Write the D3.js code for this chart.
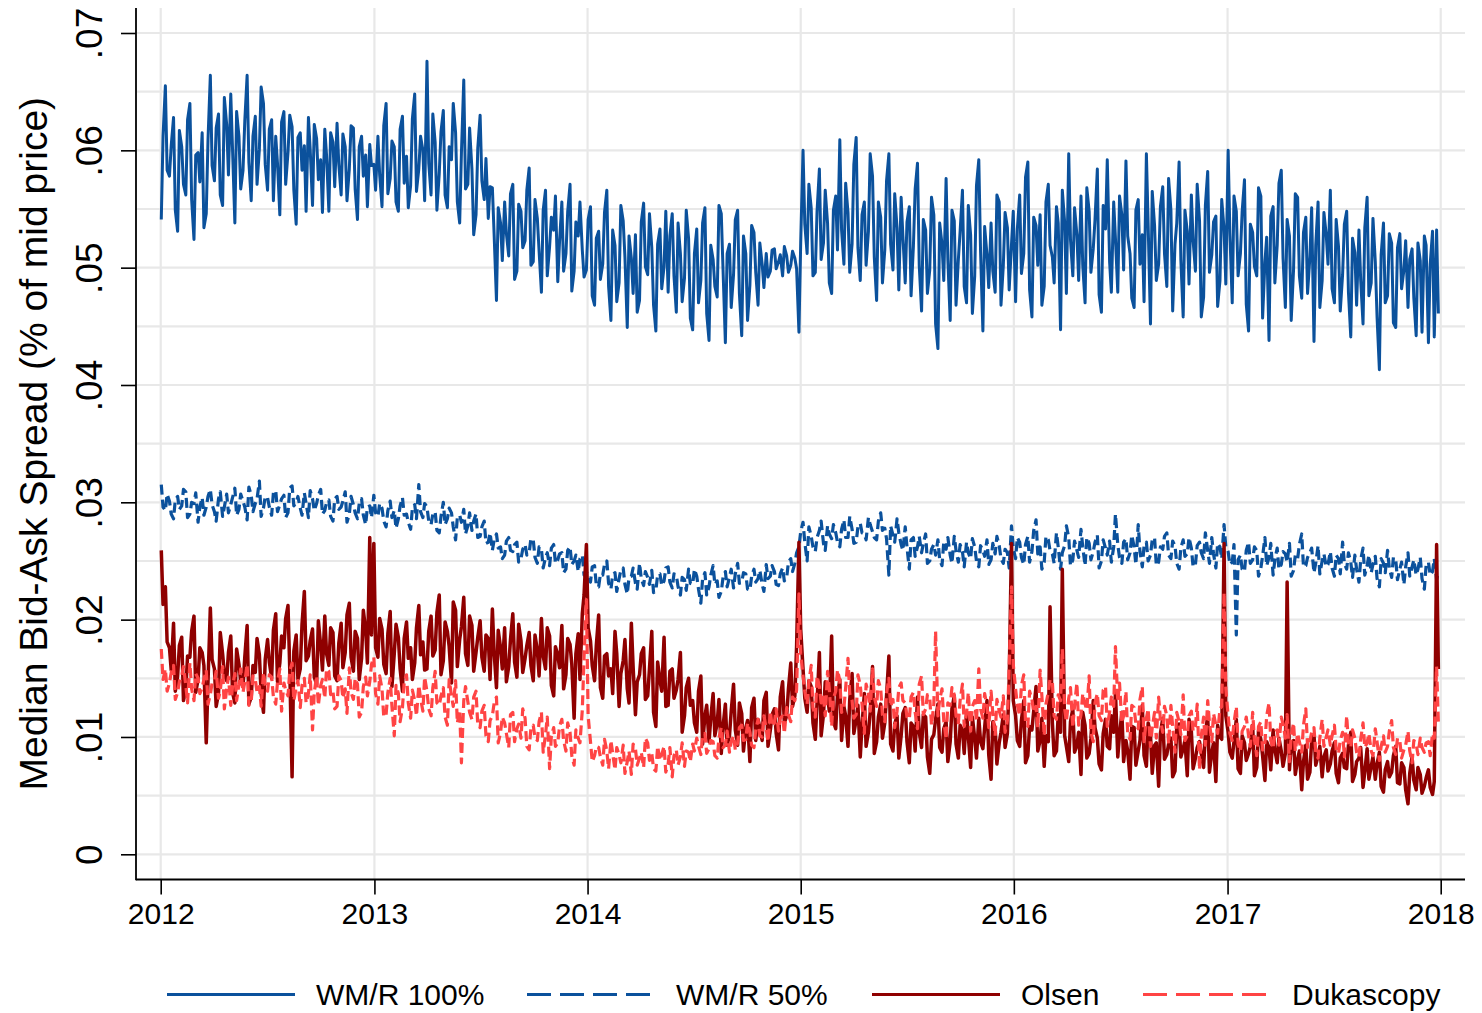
<!DOCTYPE html>
<html>
<head>
<meta charset="utf-8">
<script src="https://cdn.jsdelivr.net/npm/d3@7"></script>
<style>
  body { margin: 0; background: #fff; }
  svg { display: block; font-family: "Liberation Sans", Arial, Helvetica, sans-serif; }
</style>
</head>
<body>
<script>
// median bid-ask spreads, two readings a week
// (Monday, Thursday) from 2 Jan 2012, one row per half year,
// in units of 0.0001 (% of mid price)
const wmr100 = [
  541,612, 655,583, 578,604, 628,549, 531,617, 603,571, 562,626, 640,558, 524,596, 598,573, 615,534, 546,609, 664,587, 574,619, 631,562, 553,645, 622,579, 648,601, 538,633, 612,567, 583,625, 664,590, 557,612, 629,571, 601,654, 640,588,
  566,618, 626,557, 612,589, 545,624, 633,571, 598,630, 620,566, 537,611, 615,583, 604,548, 628,601, 553,622, 610,575, 592,547, 618,596, 548,615, 607,569, 623,588, 562,614, 603,557, 584,621, 619,567, 541,603, 612,578, 596,552, 605,587,
  588,566, 612,579, 552,621, 640,563, 576,608, 603,556, 548,618, 629,572, 595,551, 570,627, 648,565, 584,612, 600,557, 676,589, 562,631, 607,549, 580,616, 634,562, 551,603, 592,640, 615,556, 538,598, 660,567, 571,619, 584,528, 545,602,
  630,574, 558,593, 542,569, 568,528, 472,551, 538,506, 556,529, 510,563, 571,490, 497,554, 548,517, 523,566, 585,502, 505,558, 542,514, 479,549, 566,493, 518,543, 532,561, 488,522, 556,497, 512,548, 571,480, 497,539, 527,556, 515,492,
  498,541, 552,476, 468,525, 531,490, 503,547, 566,484, 455,532, 519,471, 487,553, 540,509, 449,527, 508,478, 528,462, 472,539, 555,501, 494,546, 517,468, 446,520, 533,482, 501,548, 479,527, 546,493, 462,538, 512,471, 491,549, 525,457,
  447,512, 533,470, 489,538, 551,461, 438,519, 507,484, 475,553, 546,498, 436,512, 520,466, 494,541, 549,478, 442,527, 512,455, 485,536, 530,496, 468,521, 503,483, 512,492, 497,515, 516,499, 505,511, 493,518, 510,496, 502,514, 508,499,
  445,521, 600,537, 512,571, 551,493, 496,548, 584,507, 521,566, 538,487, 478,549, 561,515, 609,532, 503,572, 547,496, 520,588, 611,517, 489,545, 556,502, 531,597, 578,509, 472,556, 543,487, 515,574, 597,520, 498,563, 534,481, 560,527,
  487,539, 552,476, 518,567, 589,502, 463,541, 532,478, 498,560, 545,452, 431,538, 520,489, 576,507, 455,549, 540,468, 507,531, 566,484, 470,553, 528,461, 493,570, 592,514, 446,535, 511,483, 538,497, 479,562, 556,468, 502,547, 534,481,
  520,548, 471,533, 562,495, 512,577, 590,481, 458,543, 536,502, 545,468, 484,556, 571,519, 509,487, 552,538, 447,566, 539,478, 597,524, 493,551, 528,489, 561,502, 470,568, 548,496, 516,541, 584,477, 462,553, 533,592, 505,479, 556,525,
  479,561, 545,498, 591,527, 512,474, 466,549, 558,503, 528,471, 597,537, 452,565, 536,489, 503,552, 569,512, 484,576, 549,463, 520,538, 590,507, 458,549, 531,486, 562,523, 497,571, 540,458, 475,553, 582,496, 511,539, 544,467, 489,558,
  533,486, 600,529, 470,561, 548,493, 512,548, 575,469, 446,537, 530,501, 493,568, 561,457, 505,526, 438,544, 552,487, 519,572, 583,508, 466,541, 527,455, 498,563, 560,493, 474,530, 543,478, 509,551, 437,519, 556,466, 489,547, 528,503,
  566,482, 470,541, 518,463, 494,537, 548,479, 441,525, 513,468, 532,489, 452,534, 560,476, 487,542, 505,458, 413,511, 538,470, 476,529, 521,453, 449,517, 529,482, 498,523, 466,507, 516,474, 442,521, 506,445, 527,519, 436,503, 531,441,
  532,461
];

const wmr50 = [
  315,296, 293,307, 301,290, 286,302, 305,294, 297,311, 309,287, 290,300, 299,308, 283,296, 304,289, 296,305, 311,298, 292,284, 303,309, 288,296, 307,291, 298,304, 312,289, 294,307, 301,296, 285,313, 306,292, 299,303, 318,288, 295,305,
  304,296, 289,308, 310,292, 298,303, 306,287, 291,312, 314,297, 300,305, 295,289, 308,299, 287,310, 303,293, 299,306, 311,290, 293,300, 302,288, 284,303, 305,294, 296,301, 309,283, 290,305, 298,291, 286,299, 303,289, 281,296, 297,287,
  306,291, 288,299, 295,284, 279,293, 301,287, 293,278, 286,297, 304,289, 290,283, 277,295, 298,286, 315,292, 287,299, 296,284, 281,290, 292,276, 274,288, 300,281, 286,295, 291,279, 268,287, 289,283, 294,273, 280,291, 276,284, 290,270,
  271,279, 284,265, 266,274, 259,268, 273,261, 262,252, 255,267, 270,259, 258,264, 266,249, 252,260, 264,255, 257,269, 268,253, 248,262, 260,244, 253,257, 246,261, 264,248, 251,256, 257,240, 243,259, 262,247, 250,255, 241,252, 255,238,
  241,236, 232,245, 246,229, 228,239, 238,247, 250,231, 226,238, 240,224, 235,242, 244,230, 222,236, 237,244, 231,226, 248,235, 229,241, 236,230, 242,223, 225,238, 239,229, 233,244, 245,232, 227,239, 238,228, 221,236, 234,225, 243,231,
  230,243, 237,226, 214,235, 240,221, 228,238, 246,230, 233,219, 224,236, 241,228, 236,243, 227,239, 248,231, 232,240, 239,226, 225,237, 243,232, 235,242, 230,224, 247,235, 237,246, 241,230, 229,239, 244,233, 236,249, 252,241, 248,257,
  262,275, 283,266, 250,279, 271,262, 258,270, 276,284, 265,259, 280,273, 269,281, 274,266, 262,277, 285,270, 270,288, 277,265, 266,279, 282,274, 273,268, 287,281, 275,270, 268,284, 291,276, 278,269, 238,280, 272,266, 286,274, 264,259,
  279,262, 243,268, 270,254, 262,271, 257,265, 273,248, 250,260, 264,255, 268,251, 246,266, 260,270, 255,248, 271,259, 249,264, 258,245, 266,257, 252,269, 262,250, 245,263, 259,254, 268,247, 251,265, 256,271, 263,252, 248,260, 257,244,
  280,261, 252,270, 266,253, 247,264, 271,249, 258,276, 285,256, 262,243, 249,271, 268,259, 256,248, 274,262, 243,257, 263,280, 270,246, 251,267, 259,253, 277,262, 246,270, 265,251, 258,266, 272,244, 250,268, 261,255, 267,249, 262,290,
  264,253, 248,266, 269,251, 257,272, 262,247, 281,258, 245,263, 266,250, 255,268, 270,246, 249,262, 260,271, 274,255, 252,267, 263,248, 243,261, 268,254, 256,270, 261,245, 247,263, 266,257, 252,274, 259,248, 270,256, 244,265, 262,252,
  281,262, 258,247, 249,264, 187,251, 255,243, 241,259, 266,248, 251,262, 259,237, 244,254, 270,246, 253,265, 238,251, 261,243, 247,258, 256,249, 265,237, 242,255, 252,264, 273,245, 246,253, 257,261, 240,248, 263,239, 250,256, 245,247,
  258,244, 237,255, 252,239, 266,248, 243,257, 249,236, 255,243, 232,251, 261,238, 246,255, 240,247, 254,235, 228,252, 248,240, 259,244, 236,253, 251,234, 243,249, 230,245, 257,237, 245,251, 238,243, 253,235, 226,246, 249,238, 241,252,
  234,241
];

const olsen = [
  259,213, 228,181, 176,157, 197,139, 152,178, 185,131, 141,169, 168,190, 203,138, 149,176, 172,161, 95,147, 210,166, 158,126, 137,189, 171,154, 148,172, 186,138, 129,175, 162,147, 143,168, 195,128, 134,161, 155,184, 170,137, 121,166,
  183,164, 150,191, 205,147, 163,186, 176,201, 212,158, 66,173, 187,149, 158,196, 224,165, 169,182, 192,151, 145,199, 178,157, 203,171, 161,193, 189,152, 148,180, 197,159, 172,204, 214,168, 156,190, 184,149, 167,208, 191,163, 270,187,
  265,176, 168,201, 192,162, 154,188, 207,143, 171,196, 185,158, 139,184, 198,167, 176,149, 163,193, 212,170, 181,157, 158,190, 203,169, 174,206, 221,153, 165,198, 190,177, 146,215, 208,160, 183,194, 219,171, 161,203, 195,156, 172,185,
  199,168, 156,187, 184,149, 209,172, 142,191, 176,158, 193,147, 160,183, 205,164, 151,196, 182,155, 167,178, 189,161, 148,187, 174,152, 201,169, 158,193, 186,144, 135,177, 170,159, 195,141, 153,184, 179,162, 116,171, 188,149, 205,221,
  264,193, 182,161, 148,178, 204,142, 133,169, 171,152, 158,137, 190,171, 126,154, 165,183, 141,129, 197,160, 119,147, 153,171, 176,132, 135,158, 190,121, 109,164, 148,139, 185,126, 127,156, 158,133, 140,149, 172,104, 118,142, 150,127,
  131,112, 104,139, 152,94, 118,127, 96,116, 137,101, 112,132, 86,109, 128,93, 101,122, 145,106, 93,129, 120,88, 108,114, 79,125, 133,97, 115,108, 97,131, 138,92, 106,119, 124,103, 89,134, 147,112, 118,141, 163,126, 135,178,
  266,192, 158,133, 121,148, 143,112, 98,129, 172,101, 119,147, 135,122, 186,113, 107,136, 149,97, 126,118, 92,132, 154,103, 115,127, 83,110, 137,92, 104,121, 160,86, 96,117, 128,99, 112,135, 169,94, 88,111, 118,82, 101,120,
  125,96, 78,112, 109,88, 134,104, 91,119, 117,83, 69,98, 102,115, 128,91, 87,107, 113,79, 96,124, 135,94, 82,110, 106,86, 121,101, 74,117, 99,82, 116,96, 90,108, 131,85, 64,113, 108,77, 95,104, 119,91, 103,148,
  265,131, 118,97, 92,114, 131,78, 84,109, 106,122, 143,88, 97,116, 75,101, 96,211, 112,84, 88,119, 104,243, 101,92, 79,113, 124,87, 93,104, 68,121, 110,82, 86,99, 131,108, 99,77, 72,103, 115,92, 90,118, 104,138,
  83,102, 121,79, 97,88, 64,109, 108,76, 88,97, 127,84, 75,112, 102,69, 93,95, 58,103, 116,81, 85,94, 99,66, 71,108, 111,83, 90,97, 67,115, 105,73, 82,91, 96,86, 74,103, 118,70, 87,95, 62,110, 100,98,
  265,118, 104,87, 82,96, 115,73, 69,101, 95,80, 86,92, 110,67, 74,105, 98,84, 63,96, 91,72, 106,89, 78,99, 88,75, 86,232, 72,94, 97,68, 81,88, 55,79, 93,64, 70,97, 102,76, 84,92, 66,83, 89,71,
  77,88, 95,69, 61,82, 86,74, 73,93, 104,62, 68,79, 82,91, 57,70, 90,64, 75,83, 64,77, 87,58, 53,72, 79,66, 70,84, 92,61, 60,78, 74,55, 43,69, 83,63, 55,74, 68,52, 58,65, 72,57, 51,62,
  264,158
];

const dukascopy = [
  175,149, 158,139, 146,155, 161,132, 138,147, 152,160, 144,129, 163,141, 131,154, 150,137, 142,149, 157,128, 136,146, 148,156, 133,139, 160,124, 141,151, 127,143, 154,131, 145,158, 138,147, 162,127, 130,152, 149,138, 143,126, 155,144,
  139,153, 151,134, 128,147, 158,122, 146,140, 135,156, 163,131, 142,148, 125,144, 150,129, 137,153, 106,138, 152,127, 144,149, 133,158, 156,136, 139,124, 126,152, 148,133, 141,120, 159,138, 132,150, 145,117, 121,143, 151,135, 147,162,
  168,137, 128,152, 141,117, 119,138, 150,126, 101,144, 137,113, 125,147, 153,129, 116,140, 131,118, 144,133, 122,151, 139,124, 118,142, 156,129, 127,135, 142,117, 110,149, 135,126, 148,112, 123,78, 131,143, 130,121, 115,134, 139,110,
  108,122, 127,101, 96,114, 118,129, 134,95, 104,117, 112,103, 91,119, 121,96, 107,111, 99,124, 116,92, 89,108, 110,99, 97,113, 121,87, 102,117, 73,101, 108,92, 95,109, 115,97, 88,112, 104,84, 76,106, 99,95, 123,168,
  217,118, 96,79, 84,92, 91,83, 76,98, 88,73, 97,86, 72,91, 85,78, 93,69, 79,88, 68,94, 90,76, 82,87, 74,99, 95,80, 86,73, 71,92, 80,85, 92,70, 77,91, 66,84, 89,76, 83,95, 75,88, 87,79,
  94,88, 99,92, 85,101, 103,86, 90,97, 96,84, 82,99, 108,91, 93,105, 87,96, 101,89, 95,108, 110,97, 98,112, 104,93, 91,106, 115,101, 100,118, 107,96, 122,109, 112,124, 105,116, 118,103, 125,119, 113,134, 131,140,
  222,171, 152,139, 128,147, 161,125, 117,152, 143,129, 134,118, 156,141, 109,133, 139,157, 148,121, 125,142, 167,137, 131,116, 119,153, 144,128, 103,145, 137,122, 158,134, 126,148, 141,119, 113,137, 150,126, 132,108, 122,142, 146,131,
  129,117, 115,134, 138,121, 107,145, 152,119, 124,136, 133,110, 128,190, 118,132, 141,114, 98,129, 127,142, 136,118, 112,131, 145,109, 120,138, 105,126, 131,113, 158,124, 116,137, 126,108, 139,120, 101,132, 122,117, 135,104, 114,159,
  228,162, 141,127, 118,144, 153,112, 109,139, 132,121, 126,108, 157,135, 101,128, 138,149, 147,118, 115,136, 131,175, 124,113, 133,142, 108,127, 146,110, 119,137, 128,123, 152,104, 96,129, 137,118, 114,140, 143,109, 121,134, 126,177,
  130,146, 112,118, 139,103, 98,127, 125,111, 107,132, 143,96, 116,124, 92,108, 121,99, 134,115, 104,126, 118,94, 127,109, 87,121, 113,102, 136,97, 101,118, 122,105, 109,128, 72,101, 117,93, 131,112, 96,120, 110,103, 124,126,
  223,141, 118,103, 97,112, 126,94, 88,105, 109,117, 101,92, 121,98, 84,109, 113,89, 95,118, 129,97, 90,104, 106,93, 117,111, 99,119, 79,101, 112,88, 103,96, 87,110, 124,91, 96,104, 108,87, 82,99, 115,92, 100,106,
  93,101, 110,89, 86,97, 104,83, 118,95, 91,106, 99,87, 83,98, 112,91, 95,103, 88,84, 107,96, 80,92, 101,87, 92,105, 114,91, 85,99, 97,82, 89,93, 105,88, 78,97, 94,85, 99,91, 87,95, 96,84, 103,99,
  160,112
];

const seriesNames = ["WM/R 100%", "WM/R 50%", "Olsen", "Dukascopy"];
const yTicks = [0, .01, .02, .03, .04, .05, .06, .07];
const yearTicks = [2012, 2013, 2014, 2015, 2016, 2017, 2018];

const width = 1482;
const height = 1013;
const plot = {left: 136, right: 1465, top: 8, bottom: 879.5};

const styles = [
  {color: "#0b519c", width: 3, dash: null, legendDash: null},
  {color: "#0b519c", width: 3.2, dash: "10,5", legendDash: "24,9"},
  {color: "#8f0000", width: 3.5, dash: null, legendDash: null},
  {color: "#ff4444", width: 3.2, dash: "10,5", legendDash: "24,9"}
];

const series = [wmr100, wmr50, olsen, dukascopy].map((values, k) => ({
  name: seriesNames[k], values: values, style: styles[k]
}));

// Monday and Thursday of each week
const start = new Date(2012, 0, 2);
const dates = wmr100.map((d, i) => d3.timeDay.offset(start, Math.floor(i / 2) * 7 + (i % 2) * 3));

const svg = d3.select("body").append("svg")
  .attr("width", width)
  .attr("height", height);

const x = d3.scaleTime()
  .domain([new Date(2012, 0, 1), new Date(2018, 0, 1)])
  .range([160.7, 1440.7]);

const y = d3.scaleLinear()
  .domain([0, 0.07])
  .range([854.3, 33]);

// grid lines
svg.append("g")
  .selectAll("line")
  .data(d3.range(0, 0.0701, 0.005))
  .join("line")
  .attr("x1", plot.left + 1).attr("x2", plot.right)
  .attr("y1", d => y(d)).attr("y2", d => y(d))
  .attr("stroke", "#e8e8e8")
  .attr("stroke-width", 2.2);

svg.append("g")
  .selectAll("line")
  .data(yearTicks)
  .join("line")
  .attr("x1", d => x(new Date(d, 0, 1))).attr("x2", d => x(new Date(d, 0, 1)))
  .attr("y1", plot.top).attr("y2", plot.bottom)
  .attr("stroke", "#e8e8e8")
  .attr("stroke-width", 2.2);

// series
const line = d3.line()
  .x((d, i) => x(dates[i]))
  .y(d => y(d / 1e4));

svg.append("g")
  .selectAll("path")
  .data(series)
  .join("path")
  .attr("d", d => line(d.values))
  .attr("fill", "none")
  .attr("stroke", d => d.style.color)
  .attr("stroke-width", d => d.style.width)
  .attr("stroke-dasharray", d => d.style.dash)
  .attr("stroke-linejoin", "round");

// axes
const fmt = v => v === 0 ? "0" : d3.format(".2f")(v).replace(/^0/, "");

const yAxis = svg.append("g")
  .attr("transform", `translate(${plot.left},0)`)
  .call(d3.axisLeft(y).tickValues(yTicks).tickSize(15).tickFormat(fmt));
yAxis.select(".domain").remove();
yAxis.attr("font-family", null).attr("font-size", null);
yAxis.selectAll(".tick line").attr("stroke", "#000").attr("stroke-width", 1.6);
yAxis.selectAll(".tick text")
  .attr("x", null)
  .attr("dy", null)
  .attr("text-anchor", "middle")
  .attr("transform", "translate(-34,0) rotate(-90)")
  .attr("font-size", 37)
  .attr("fill", "#000");

const xAxis = svg.append("g")
  .attr("transform", `translate(0,${plot.bottom})`)
  .call(d3.axisBottom(x)
    .tickValues(yearTicks.map(yr => new Date(yr, 0, 1)))
    .tickSize(15)
    .tickPadding(8)
    .tickFormat(d3.timeFormat("%Y")));
xAxis.select(".domain").remove();
xAxis.attr("font-family", null).attr("font-size", null);
xAxis.selectAll(".tick line").attr("stroke", "#000").attr("stroke-width", 1.6);
xAxis.selectAll(".tick text").attr("font-size", 30).attr("fill", "#000");

svg.append("line")
  .attr("x1", plot.left).attr("x2", plot.left)
  .attr("y1", plot.top).attr("y2", plot.bottom + 0.8)
  .attr("stroke", "#000").attr("stroke-width", 1.8);
svg.append("line")
  .attr("x1", plot.left).attr("x2", plot.right)
  .attr("y1", plot.bottom).attr("y2", plot.bottom)
  .attr("stroke", "#000").attr("stroke-width", 1.8);

// y title
svg.append("text")
  .attr("transform", `translate(47,${(plot.top + plot.bottom) / 2}) rotate(-90)`)
  .attr("text-anchor", "middle")
  .attr("font-size", 39)
  .attr("fill", "#000")
  .text("Median Bid-Ask Spread (% of mid price)");

// legend
const legendX = [167, 527, 872, 1143];
const legend = svg.append("g")
  .selectAll("g")
  .data(series)
  .join("g")
  .attr("transform", (d, i) => `translate(${legendX[i]},994.5)`);

legend.append("line")
  .attr("x1", 0).attr("x2", 128)
  .attr("stroke", d => d.style.color)
  .attr("stroke-width", 3)
  .attr("stroke-dasharray", d => d.style.legendDash);

legend.append("text")
  .attr("x", 149)
  .attr("y", 10.5)
  .attr("font-size", 30)
  .attr("fill", "#000")
  .text(d => d.name);
</script>
</body>
</html>
